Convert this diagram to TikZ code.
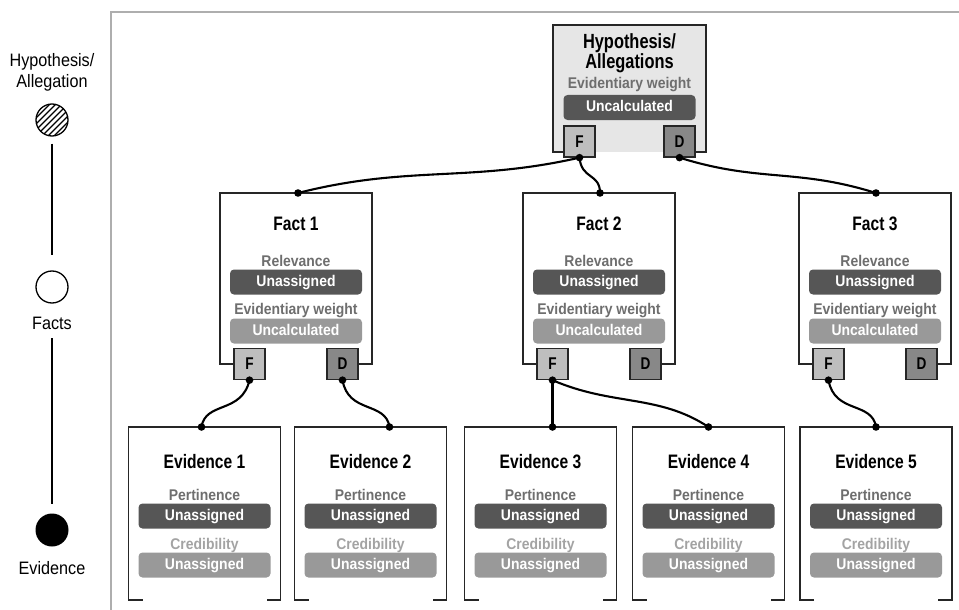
\documentclass[tikz,border=0pt]{standalone}
\usepackage{fontspec}
\setmainfont{Liberation Sans}[FakeStretch=0.9]
\newfontfamily\condfont{Liberation Sans}[FakeStretch=0.8]
\usetikzlibrary{calc}
\definecolor{labgray}{HTML}{6E6E6E}
\definecolor{credgray}{HTML}{A3A3A3}
\definecolor{bdarkc}{HTML}{565656}
\definecolor{blightc}{HTML}{999999}
\definecolor{fgray}{HTML}{BEBEBE}
\definecolor{dgray}{HTML}{888888}
\definecolor{hypfill}{HTML}{E6E6E6}
\definecolor{framegray}{HTML}{AEAEAE}
\tikzset{
  boxline/.style={draw=black!85,line width=1.3pt},
  boxshape/.style={inner sep=0pt,outer sep=0pt},
  ttl/.style={font=\condfont\bfseries\fontsize{19.5}{20}\selectfont,inner sep=0pt,text height=14pt,text depth=4pt},
  lab/.style={font=\bfseries\fontsize{15.5}{17}\selectfont,text=labgray,inner sep=0pt,text height=11.5pt,text depth=3.5pt},
  badge/.style={rounded corners=4pt,minimum width=132pt,minimum height=25pt,inner sep=0pt,text=white,
    font=\bfseries\fontsize{15.5}{17}\selectfont,text height=11.5pt,text depth=3.5pt},
  bdark/.style={badge,fill=bdarkc},
  blight/.style={badge,fill=blightc},
  port/.style={draw=black!85,line width=1.3pt,minimum size=31pt,inner sep=0pt,
    font=\condfont\bfseries\fontsize{17}{18}\selectfont},
  fport/.style={port,fill=fgray},
  dport/.style={port,fill=dgray},
  conn/.style={line width=2.1pt,line cap=round},
  jdot/.style={fill=black},
  side/.style={font=\fontsize{18}{21}\selectfont,inner sep=0pt,align=center},
  axis/.style={line width=2.2pt}
}
\newcommand\MyFactBox[3]{%
  \node[boxshape,minimum width=152pt,minimum height=171pt] (#1) at (#2,278.5) {};
  \draw[boxline] ($(#1.south west)+(14,0)$) -- (#1.south west) -- (#1.north west) -- (#1.north east) -- (#1.south east) -- ++(-14,0);
  \node[ttl] (#1-t) at ($(#1.north)+(0,32)$) {#3};
  \node[lab] (#1-rl) at ($(#1.north)+(0,69)$) {Relevance};
  \node[bdark] (#1-rb) at ($(#1.north)+(0,89)$) {Unassigned};
  \node[lab] (#1-wl) at ($(#1.north)+(0,117.5)$) {Evidentiary weight};
  \node[blight] (#1-wb) at ($(#1.north)+(0,138)$) {Uncalculated};
  \node[fport] (#1-F) at ($(#1.south west)+(29.5,0)$) {F};
  \node[dport] (#1-D) at ($(#1.south east)+(-29.5,0)$) {D};
}
\newcommand\MyEvBox[3]{%
  \node[boxshape,minimum width=152pt,minimum height=173pt] (#1) at (#2,513.5) {};
  \draw[boxline] ($(#1.south west)+(14,0)$) -- (#1.south west) -- (#1.north west) -- (#1.north east) -- (#1.south east) -- ++(-14,0);
  \node[ttl] (#1-t) at ($(#1.north)+(0,36)$) {#3};
  \node[lab] (#1-pl) at ($(#1.north)+(0,69)$) {Pertinence};
  \node[bdark] (#1-pb) at ($(#1.north)+(0,89)$) {Unassigned};
  \node[lab,text=credgray] (#1-cl) at ($(#1.north)+(0,118)$) {Credibility};
  \node[blight] (#1-cb) at ($(#1.north)+(0,138)$) {Unassigned};
}
\begin{document}
\begin{tikzpicture}[x=1pt,y=-1pt]
\useasboundingbox (0,0) rectangle (959,610);
% frame
\draw[framegray,line width=2.5pt] (111,610) -- (111,12) -- (959,12);
% left axis
\node[side] (lh) at (52,72.5) {Hypothesis/\\Allegation};
\node[circle,draw=black,line width=1.3pt,minimum size=32pt,inner sep=0pt,
  path picture={\foreach \i in {-36,-30,...,36}
    \draw[line width=1.4pt] ($(path picture bounding box.center)+(\i-20,20)$) -- ++(40,-40);}] (c1) at (52,120) {};
\node[circle,draw=black,line width=1.3pt,fill=white,minimum size=32pt,inner sep=0pt] (c2) at (52,287) {};
\node[side] (lf) at (52,323) {Facts};
\node[circle,fill=black,minimum size=33pt,inner sep=0pt] (c3) at (52,530) {};
\node[side] (le) at (52,568) {Evidence};
\draw[axis] ($(c1.south)+(0,7)$) -- ($(c2.north)+(0,-15)$);
\draw[axis] ($(lf.south)+(0,9)$) -- ($(c3.north)+(0,-9)$);
% hypothesis box
\node[boxshape,fill=hypfill,minimum width=153pt,minimum height=127pt] (hyp) at (629.5,88.5) {};
\draw[boxline] ($(hyp.south west)+(11,0)$) -- (hyp.south west) -- (hyp.north west) -- (hyp.north east) -- (hyp.south east) -- ++(-11,0);
\node[inner sep=0pt,align=center,font=\condfont\bfseries\fontsize{20.5}{17}\selectfont] (hyp-t) at (629.5,53) {Hypothesis/\\Allegations};
\node[lab] (hyp-wl) at (629.5,84.5) {Evidentiary weight};
\node[bdark] (hyp-wb) at (629.5,107.5) {Uncalculated};
\node[fport] (hyp-F) at (579.5,141.5) {F};
\node[dport] (hyp-D) at (679.5,141.5) {D};
% facts
\MyFactBox{fact1}{296}{Fact 1}
\MyFactBox{fact2}{599}{Fact 2}
\MyFactBox{fact3}{875}{Fact 3}
% evidence
\MyEvBox{ev1}{204.5}{Evidence 1}
\MyEvBox{ev2}{370.5}{Evidence 2}
\MyEvBox{ev3}{540.5}{Evidence 3}
\MyEvBox{ev4}{708.5}{Evidence 4}
\MyEvBox{ev5}{876}{Evidence 5}
% connection points
\coordinate (p-f1) at ($(fact1.north)+(2,0)$);
\coordinate (p-f2) at ($(fact2.north)+(1,0)$);
\coordinate (p-f3) at ($(fact3.north)+(1,0)$);
\coordinate (p-e1) at ($(ev1.north)+(-3,0)$);
\coordinate (p-e2) at ($(ev2.north)+(19,0)$);
\coordinate (p-e3) at (fact2-F.south |- ev3.north);
\coordinate (p-e4) at ($(ev4.north)+(0,0)$);
\coordinate (p-e5) at ($(ev5.north)+(0,0)$);
% connectors
\draw[conn] (hyp-F.south) .. controls +(-110,25) and +(110,-28) .. (p-f1);
\draw[conn] (hyp-F.south) .. controls +(2,22) and +(0,-20) .. (p-f2);
\draw[conn] (hyp-D.south) .. controls +(80,25) and +(-80,-25) .. (p-f3);
\draw[conn] (fact1-F.south) .. controls +(-8,34) and +(4,-26) .. (p-e1);
\draw[conn] (fact1-D.south) .. controls +(6,34) and +(-4,-26) .. (p-e2);
\draw[conn] (fact2-F.south) -- (p-e3);
\draw[conn] (fact2-F.south) .. controls +(60,26) and +(-50,-33) .. (p-e4);
\draw[conn] (fact3-F.south) .. controls +(6,34) and +(-4,-26) .. (p-e5);
% dots
\foreach \p in {hyp-F.south,hyp-D.south,fact1-F.south,fact1-D.south,fact2-F.south,fact3-F.south,
  p-f1,p-f2,p-f3,p-e1,p-e2,p-e3,p-e4,p-e5}
  \fill[jdot] (\p) circle (3.8pt);
\end{tikzpicture}
\end{document}
